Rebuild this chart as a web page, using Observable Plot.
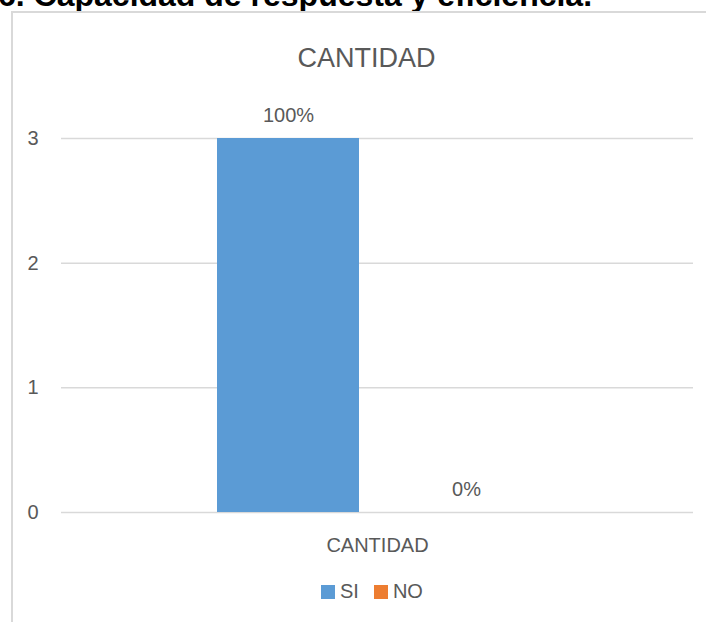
<!DOCTYPE html>
<html>
<head>
<meta charset="utf-8">
<script src="https://cdn.jsdelivr.net/npm/d3@7"></script>
<script src="https://cdn.jsdelivr.net/npm/@observablehq/plot@0.6"></script>
<style>
  body { margin: 0; background: #fff; }
  #wrap { position: relative; width: 706px; height: 622px; overflow: hidden; background: #fff;
          font-family: "Liberation Sans", Arial, sans-serif; }
  #heading { position: absolute; left: -2px; top: -21px; font-weight: bold; font-size: 32px;
             line-height: 1; color: #000; white-space: nowrap; }
  #frame { position: absolute; left: 11px; top: 11px; width: 900px; height: 900px;
           border-left: 2px solid #d9d9d9; border-top: 2px solid #d9d9d9; }
  #chart { position: absolute; left: 0; top: 0; }
  #legend { position: absolute; left: 321px; top: 575px; }
  .lg-swatches { font-family: "Liberation Sans", Arial, sans-serif !important; font-size: 20px !important; color: #595959 !important; margin: 0 !important; }
  .lg-swatch { margin-right: 15px !important; }
  .lg-swatch > svg { margin-right: 5px !important; }
</style>
</head>
<body>
<div id="wrap">
  <div id="heading"></div>
  <div id="frame"></div>
  <div id="chart"></div>
  <div id="legend"></div>
</div>
<script>
const headingText = "6. Capacidad de respuesta y eficiencia.";
const chartTitle = "CANTIDAD";
const groups = ["CANTIDAD"];
const series = ["SI", "NO"];
const values = [3, 0];
const percentLabels = ["100%", "0%"];
const yTicks = [0, 1, 2, 3];
const colors = ["#5B9BD5", "#ED7D31"];

const data = series.map((s, i) => ({group: groups[0], serie: s, value: values[i], label: percentLabels[i]}));

document.getElementById("heading").textContent = headingText;

const textColor = "#595959";

const chart = Plot.plot({
  width: 706,
  height: 622,
  marginTop: 138,
  marginBottom: 110,
  marginLeft: 61,
  marginRight: 13,
  style: {fontFamily: '"Liberation Sans", Arial, sans-serif', fontSize: "20px", color: textColor, background: "transparent"},
  fx: {domain: groups, padding: 0, label: null},
  x: {domain: series, paddingInner: 0.201, paddingOuter: 0.866, axis: null},
  y: {domain: [0, 3], axis: null},
  color: {domain: series, range: colors},
  marks: [
    Plot.gridY(yTicks, {stroke: "#d9d9d9", strokeOpacity: 1, strokeWidth: 1.5}),
    Plot.axisY(yTicks, {tickSize: 0, tickPadding: 23, tickFormat: "d", label: null, fill: textColor}),
    Plot.axisFx({anchor: "bottom", tickSize: 0, tickPadding: 25, label: null, fill: textColor}),
    Plot.barY(data, {fx: "group", x: "serie", y: "value", fill: "serie"}),
    Plot.text(data, {fx: "group", x: "serie", y: "value", text: "label", lineAnchor: "bottom", dy: -17, fill: textColor, fontSize: 20}),
    Plot.text([chartTitle], {frameAnchor: "top", lineAnchor: "bottom", dx: -11, dy: -72, fill: textColor, fontSize: 27, text: d => d})
  ]
});
document.getElementById("chart").appendChild(chart);

const legend = Plot.legend({
  color: {domain: series, range: colors},
  legend: "swatches",
  swatchSize: 14,
  className: "lg"
});
document.getElementById("legend").appendChild(legend);
</script>
</body>
</html>
